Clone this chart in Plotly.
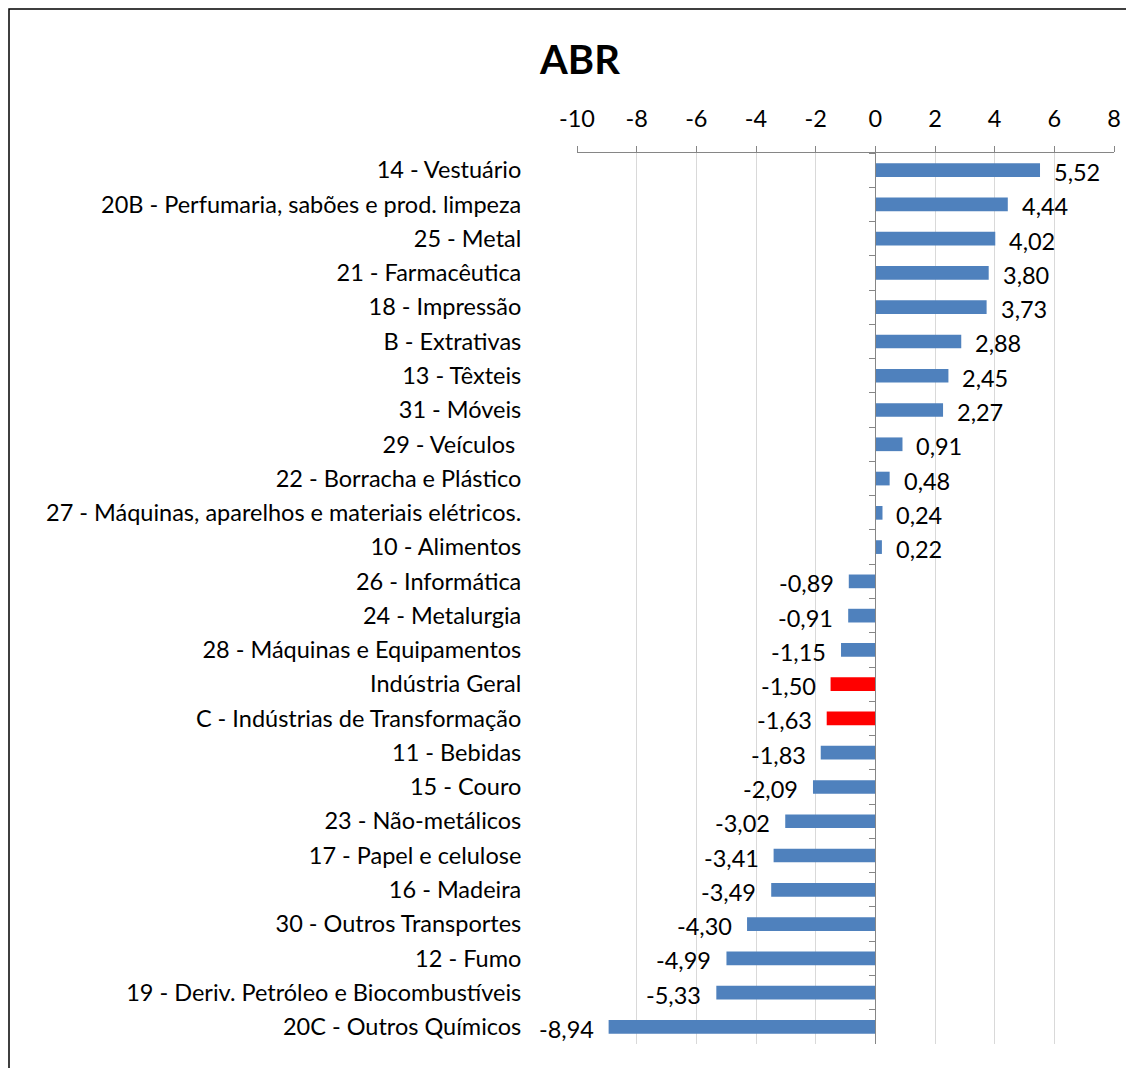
import plotly.graph_objects as go

categories = [
    "14 - Vestuário",
    "20B - Perfumaria, sabões e prod. limpeza",
    "25 - Metal",
    "21 - Farmacêutica",
    "18 - Impressão",
    "B - Extrativas",
    "13 - Têxteis",
    "31 - Móveis",
    "29 - Veículos ",
    "22 - Borracha e Plástico",
    "27 - Máquinas, aparelhos e materiais elétricos.",
    "10 - Alimentos",
    "26 - Informática",
    "24 - Metalurgia",
    "28 - Máquinas e Equipamentos",
    "Indústria Geral",
    "C - Indústrias de Transformação",
    "11 - Bebidas",
    "15 - Couro",
    "23 - Não-metálicos",
    "17 - Papel e celulose",
    "16 - Madeira",
    "30 - Outros Transportes",
    "12 - Fumo",
    "19 - Deriv. Petróleo e Biocombustíveis",
    "20C - Outros Químicos",
]
values = [5.52, 4.44, 4.02, 3.80, 3.73, 2.88, 2.45, 2.27, 0.91, 0.48, 0.24, 0.22,
          -0.89, -0.91, -1.15, -1.50, -1.63, -1.83, -2.09, -3.02, -3.41, -3.49,
          -4.30, -4.99, -5.33, -8.94]
highlight = {"Indústria Geral", "C - Indústrias de Transformação"}
x_ticks = [-10, -8, -6, -4, -2, 0, 2, 4, 6, 8]

BLUE = "#4F81BD"
RED = "#FF0000"
FONT = "Lato, Open Sans, sans-serif"
FS = 23.5

colors = [RED if c in highlight else BLUE for c in categories]
labels = [f"{v:.2f}".replace(".", ",") for v in values]

# page body has an 8px margin; figure sized to fill the rest of the window
W, H = 1126, 1060
L, R, T, B = 569, 20, 145, 24

fig = go.Figure()
fig.add_trace(go.Bar(
    x=values, y=categories, orientation="h",
    marker=dict(color=colors, line=dict(width=0)),
    yaxis="y2", hoverinfo="x+y", showlegend=False,
))
# invisible trace for the label axis
fig.add_trace(go.Bar(
    x=[0] * len(categories), y=categories, orientation="h",
    marker=dict(color="rgba(0,0,0,0)"), yaxis="y",
    hoverinfo="skip", showlegend=False,
))

annotations = []
for c, v, t in zip(categories, values, labels):
    annotations.append(dict(
        x=v, y=c, xref="x", yref="y2", text=t, showarrow=False,
        xanchor="left" if v >= 0 else "right",
        xshift=12 if v >= 0 else -13, yshift=-2,
        font=dict(family=FONT, size=FS, color="#000000"),
    ))

cat_range = [len(categories) - 0.5, -0.5]
zero_pos = (0 - x_ticks[0]) / (x_ticks[-1] - x_ticks[0])

fig.update_layout(
    width=W, height=H,
    margin=dict(l=L, r=R, t=T, b=B, pad=0),
    paper_bgcolor="white", plot_bgcolor="white",
    barmode="overlay", bargap=0.6,
    title=dict(text="<b>ABR</b>", x=572 / W, xanchor="center",
               y=1 - 52 / H, yanchor="middle",
               font=dict(family=FONT, size=40, color="#000000")),
    xaxis=dict(
        range=[x_ticks[0], x_ticks[-1]], side="top",
        tickvals=x_ticks, ticktext=[str(t) for t in x_ticks],
        showgrid=True, gridcolor="#D9D9D9", gridwidth=1,
        showline=True, linecolor="#868686", linewidth=1,
        ticks="outside", ticklen=6, tickcolor="#868686",
        ticklabelstandoff=10,
        zeroline=False, mirror=False,
        tickfont=dict(family=FONT, size=FS, color="#000000"),
    ),
    yaxis=dict(
        type="category", categoryorder="array", categoryarray=categories,
        range=cat_range, showgrid=False, zeroline=False, showline=False,
        ticks="outside", ticklen=50, tickcolor="rgba(0,0,0,0)",
        tickfont=dict(family=FONT, size=FS, color="#000000"),
    ),
    yaxis2=dict(
        type="category", categoryorder="array", categoryarray=categories,
        range=cat_range, overlaying="y", anchor="free", position=zero_pos,
        side="left", showgrid=False, zeroline=False,
        showline=True, linecolor="#868686", linewidth=1,
        ticks="outside", tickson="boundaries", ticklen=6, tickcolor="#868686",
        showticklabels=False,
    ),
    annotations=annotations,
    shapes=[dict(type="rect", xref="paper", yref="paper",
                 x0=-(L - 1) / (W - L - R), x1=1.2, y0=-0.2, y1=1 + (T - 1) / (H - T - B),
                 line=dict(color="#000000", width=1.5), fillcolor="rgba(0,0,0,0)",
                 layer="below")],
)

fig.write_html("out.html")
